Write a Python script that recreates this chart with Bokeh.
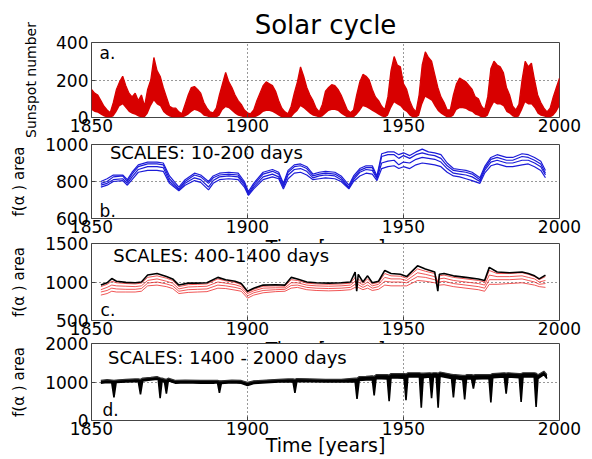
from bokeh.plotting import figure
from bokeh.layouts import column
from bokeh.models import Label, Range1d, Title
from bokeh.embed import file_html
from bokeh.resources import INLINE

# ---------------- data ----------------
years_a = list(range(1850, 2001))
ssn_high = [150, 130, 120, 90, 60, 40, 25,
            80, 150, 190, 220, 170, 130, 110, 130, 90, 120, 60,
            150, 200, 320, 250, 220, 160, 110, 60, 50, 50, 30, 20,
            70, 120, 160, 165, 150, 130, 80, 50, 30, 25,
            50, 120, 180, 240, 190, 160, 120, 90, 70, 40, 25, 20,
            40, 90, 130, 170, 190, 180, 170, 140, 90, 50, 30, 20,
            60, 130, 190, 270, 220, 160, 120, 90, 50, 30,
            70, 140, 160, 175, 170, 150, 120, 80, 40, 25,
            40, 120, 190, 230, 220, 200, 150, 110, 90, 60, 40,
            110, 250, 325, 280, 270, 180, 150, 90, 50, 30,
            120, 280, 350, 320, 300, 230, 160, 110, 80, 40, 40,
            120, 180, 210, 200, 190, 170, 150, 110, 100, 60, 40,
            110, 260, 300, 280, 270, 240, 160, 120, 60, 40, 70,
            200, 300, 270, 290, 200, 120, 80, 50, 30, 50, 110, 160, 210]
ssn_low = [40, 30, 25, 15, 5, 0, 0,
           5, 30, 60, 70, 50, 30, 20, 15, 5, 0, 0,
           20, 60, 90, 70, 60, 30, 15, 5, 0, 0, 0, 0,
           5, 15, 30, 40, 35, 25, 10, 5, 0, 0,
           0, 10, 40, 55, 50, 35, 20, 10, 5, 0, 0, 0,
           0, 5, 15, 30, 35, 35, 30, 20, 10, 0, 0, 0,
           0, 20, 35, 60, 50, 35, 20, 10, 5, 0,
           5, 20, 35, 40, 40, 35, 20, 10, 0, 0,
           0, 15, 35, 60, 55, 45, 35, 25, 15, 5, 0,
           10, 50, 80, 70, 60, 40, 30, 10, 0, 0,
           10, 70, 110, 100, 90, 60, 35, 20, 10, 0, 0,
           10, 40, 50, 50, 45, 35, 30, 15, 10, 0, 0,
           10, 50, 80, 70, 70, 60, 30, 20, 5, 0, 5,
           40, 80, 70, 70, 50, 20, 10, 5, 0, 0, 10, 30, 60]

years_b = [1853, 1855, 1857, 1860, 1861.5, 1863, 1865, 1868, 1871, 1873,
           1875, 1878, 1880, 1883, 1885, 1887.5, 1889, 1891, 1894, 1897,
           1899, 1900.3, 1902, 1905, 1908, 1910, 1911.5, 1913, 1915, 1917,
           1919, 1921, 1923, 1925, 1928, 1930, 1932.5, 1934, 1936, 1938,
           1940, 1941.5, 1943, 1945, 1947, 1948.5, 1950, 1952, 1954, 1956,
           1958, 1960, 1962, 1964, 1966, 1968, 1970, 1972, 1974.5, 1976,
           1978, 1980, 1983, 1985, 1988, 1990, 1992, 1994, 1995.5]
area_b1 = [800, 815, 835, 835, 810, 850, 890, 905, 905, 900,
           830, 770, 810, 845, 835, 800, 830, 845, 850, 845,
           800, 745, 790, 850, 865, 850, 790, 860, 890, 895,
           880, 840, 850, 855, 850, 830, 780, 830, 870, 885,
           885, 830, 950, 960, 960, 945, 955, 940, 960, 975,
           960, 955, 945, 900, 870, 865, 860, 850, 820, 880,
           930, 945, 930, 930, 950, 945, 930, 910, 860]
area_b2 = [790, 800, 825, 830, 800, 840, 880, 895, 895, 890,
           815, 760, 800, 835, 825, 790, 820, 835, 840, 835,
           790, 735, 780, 840, 855, 840, 780, 850, 880, 885,
           870, 830, 840, 845, 840, 820, 770, 820, 860, 875,
           875, 820, 935, 945, 945, 925, 940, 925, 945, 955,
           945, 940, 925, 885, 860, 855, 850, 840, 810, 870,
           920, 930, 915, 915, 935, 930, 915, 895, 845]
area_b3 = [780, 790, 810, 815, 790, 825, 865, 880, 880, 875,
           800, 755, 790, 820, 810, 770, 805, 825, 830, 825,
           780, 730, 770, 825, 840, 825, 770, 835, 865, 870,
           855, 820, 830, 835, 830, 810, 765, 810, 850, 865,
           860, 815, 900, 910, 915, 890, 905, 900, 920, 930,
           925, 920, 905, 870, 845, 840, 835, 825, 800, 860,
           905, 915, 900, 900, 915, 915, 900, 880, 835]
area_b4 = [770, 780, 800, 805, 780, 810, 850, 860, 860, 855,
           790, 750, 780, 805, 795, 755, 790, 810, 815, 810,
           770, 725, 760, 810, 825, 815, 760, 815, 845, 850,
           835, 810, 815, 820, 815, 800, 760, 800, 830, 845,
           840, 805, 870, 880, 885, 870, 880, 870, 890, 900,
           895, 890, 880, 850, 830, 825, 815, 805, 790, 845,
           885, 895, 880, 880, 890, 895, 880, 860, 820]

years_c = [1853, 1855, 1856.5, 1858, 1861, 1864, 1866, 1868, 1871, 1874,
           1876, 1878, 1881, 1884, 1887, 1890.5, 1893, 1896, 1898, 1900,
           1902, 1905, 1909, 1912, 1914, 1916, 1919, 1922, 1926, 1930,
           1933, 1934.5, 1935, 1935.5, 1937, 1938.5, 1940, 1942, 1944, 1946,
           1949, 1951, 1954.5, 1957, 1960, 1961, 1961.5, 1963, 1966, 1970,
           1974, 1976, 1977.5, 1980, 1984, 1988, 1990, 1992, 1993.5, 1995.5]
area_c_black = [960, 990, 1045, 1010, 995, 990, 1000, 1090, 1110, 1070,
                1040, 960, 985, 985, 990, 1060, 1030, 1010, 980, 880,
                920, 960, 965, 960, 1060, 1040, 1000, 990, 985, 990,
                1000, 1130, 880, 1100, 1000, 1080, 990, 1010, 1150, 1110,
                1100, 1070, 1210, 1170, 1130, 880, 1100, 1110, 1080, 1060,
                1040, 1020, 1190, 1130, 1120, 1130, 1110, 1080, 1040, 1090]
area_c1 = [940, 970, 1010, 990, 980, 975, 985, 1060, 1080, 1050,
           1020, 940, 965, 970, 975, 1040, 1015, 995, 965, 870,
           905, 945, 950, 945, 1030, 1020, 985, 975, 970, 975,
           985, 1060, 980, 1040, 985, 1040, 975, 995, 1110, 1080,
           1075, 1050, 1170, 1140, 1110, 1000, 1080, 1090, 1060, 1040,
           1020, 1000, 1150, 1110, 1110, 1120, 1100, 1070, 1030, 1070]
area_c2 = [900, 930, 960, 950, 945, 940, 950, 1020, 1040, 1010,
           985, 910, 935, 940, 945, 1000, 985, 965, 940, 850,
           885, 920, 925, 925, 990, 990, 960, 950, 945, 950,
           960, 1010, 970, 1000, 960, 1000, 950, 970, 1060, 1040,
           1040, 1020, 1120, 1100, 1070, 1000, 1040, 1050, 1020, 1000,
           980, 960, 1090, 1070, 1070, 1080, 1060, 1040, 1000, 1020]
area_c3 = [870, 890, 920, 910, 905, 905, 915, 985, 1000, 975,
           950, 880, 900, 905, 910, 960, 950, 930, 910, 820,
           860, 890, 900, 905, 955, 960, 930, 920, 915, 920,
           930, 970, 945, 965, 930, 960, 920, 940, 1010, 1000,
           1000, 990, 1070, 1060, 1030, 990, 1000, 1010, 980, 960,
           940, 920, 1030, 1030, 1030, 1040, 1020, 1000, 970, 980]
area_c4 = [830, 850, 880, 870, 870, 870, 880, 950, 960, 940,
           915, 850, 865, 870, 875, 920, 915, 895, 880, 790,
           830, 860, 875, 880, 920, 930, 900, 890, 885, 890,
           900, 930, 915, 930, 900, 920, 890, 905, 960, 950,
           950, 950, 1020, 1010, 990, 970, 960, 965, 940, 920,
           900, 880, 970, 970, 980, 990, 975, 960, 940, 930]

years_d = [1853, 1855, 1856.5, 1857.2, 1857.9,
           1861, 1864, 1865.0, 1865.7, 1866.4,
           1869, 1871, 1871.4, 1872, 1872.6,
           1873.4, 1874, 1874.6, 1877, 1880,
           1885, 1889, 1890.4, 1891, 1891.6,
           1895, 1898, 1900, 1902, 1906,
           1910, 1913, 1914.6, 1915.2, 1915.8,
           1920, 1925, 1930, 1934.5, 1935.1,
           1935.8, 1938, 1940.0, 1940.6, 1941.2,
           1944.8, 1945.4, 1946.0, 1950.2, 1950.8,
           1951.4, 1955.1, 1955.7, 1956.3, 1958.4,
           1959, 1959.6, 1960.5, 1961.1, 1961.7,
           1965.4, 1966, 1966.6, 1969.0, 1969.6,
           1970.2, 1971.8, 1972.4, 1973.0, 1977.4,
           1978, 1978.6, 1982.3, 1982.9, 1983.5,
           1987.1, 1987.7, 1988.3, 1991.9, 1992.5,
           1993.1, 1995, 1996]
area_d_lower = [970, 990, 980, 600, 990,
                1000, 1010, 1010, 680, 1030,
                1050, 1070, 1060, 580, 1020,
                1000, 700, 1030, 970, 980,
                970, 970, 980, 720, 960,
                980, 970, 910, 960, 980,
                1000, 1000, 1000, 720, 1010,
                1010, 1000, 1000, 1010, 560,
                1040, 1050, 1060, 650, 1090,
                1080, 500, 1110, 1100, 530,
                1130, 1130, 330, 1110, 1130,
                580, 1130, 1130, 330, 1150,
                1090, 600, 1090, 1060, 550,
                1080, 1080, 830, 1080, 1090,
                470, 1110, 1130, 700, 1130,
                1110, 480, 1130, 1130, 350,
                1090, 1190, 1090]
area_d_upper = [1040, 1060, 1050, 1040, 1050,
                1070, 1080, 1080, 1070, 1100,
                1120, 1140, 1130, 1110, 1100,
                1080, 1070, 1100, 1040, 1050,
                1040, 1040, 1040, 1030, 1030,
                1050, 1040, 990, 1030, 1050,
                1070, 1080, 1080, 1070, 1090,
                1080, 1070, 1070, 1100, 1100,
                1140, 1150, 1160, 1150, 1190,
                1190, 1180, 1220, 1220, 1210,
                1240, 1240, 1230, 1230, 1240,
                1230, 1240, 1240, 1230, 1260,
                1200, 1190, 1190, 1170, 1170,
                1190, 1190, 1180, 1190, 1190,
                1200, 1220, 1240, 1230, 1240,
                1220, 1220, 1240, 1240, 1230,
                1190, 1280, 1190]

x_ticks = [1850, 1900, 1950, 2000]
ticks_a = [0, 200, 400]
ticks_b = [600, 800, 1000]
ticks_c = [500, 1000, 1500]
ticks_d = [0, 1000, 2000]

for a, b in [(years_a, ssn_high), (years_a, ssn_low), (years_b, area_b1), (years_b, area_b2),
             (years_b, area_b3), (years_b, area_b4), (years_c, area_c_black), (years_c, area_c1),
             (years_c, area_c2), (years_c, area_c3), (years_c, area_c4), (years_d, area_d_upper),
             (years_d, area_d_lower)]:
    assert len(a) == len(b), (len(a), len(b))

# ---------------- styling helpers ----------------
FONT = "DejaVu Sans"
RED = "#d80000"
BLUE = "#1c1cd8"
LRED = "#ec2a2a"


def make_fig(height, top, bottom, yr, yticks, ylabel, mtop, ylabel_size="15px",
             xlabel=None, xlabel_standoff=-4):
    p = figure(width=592, height=height, title=None,
               x_range=Range1d(1850, 2000), y_range=Range1d(*yr),
               output_backend="svg", toolbar_location=None,
               min_border_left=91, min_border_right=33,
               min_border_top=top, min_border_bottom=bottom)
    p.margin = (mtop, 0, 0, 0)
    p.border_fill_alpha = 0
    p.background_fill_color = "white"
    p.outline_line_color = "#444444"
    p.outline_line_width = 1
    p.xaxis.ticker = x_ticks
    p.yaxis.ticker = yticks
    for ax in (p.xaxis, p.yaxis):
        ax.axis_line_color = None
        ax.major_tick_in = 4
        ax.major_tick_out = 0
        ax.major_tick_line_color = "#444444"
        ax.minor_tick_line_color = None
        ax.major_label_text_font = FONT
        ax.major_label_text_font_size = "17px"
        ax.major_label_text_color = "black"
    p.xaxis.major_label_standoff = 1
    p.yaxis.major_label_standoff = 3
    p.yaxis.axis_label = ylabel
    p.yaxis.axis_label_text_font = FONT
    p.yaxis.axis_label_text_font_size = ylabel_size
    p.yaxis.axis_label_text_font_style = "normal"
    p.yaxis.axis_label_text_color = "black"
    p.yaxis.axis_label_standoff = 14
    if xlabel:
        p.xaxis.axis_label = xlabel
        p.xaxis.axis_label_text_font = FONT
        p.xaxis.axis_label_text_font_size = "19px"
        p.xaxis.axis_label_text_font_style = "normal"
        p.xaxis.axis_label_text_color = "black"
        p.xaxis.axis_label_standoff = xlabel_standoff
    for g in (p.xgrid, p.ygrid):
        g.grid_line_color = "#333333"
        g.grid_line_dash = "1 3"
        g.grid_line_width = 1
    return p


def label(p, x, y, text, size, align="left"):
    p.add_layout(Label(x=x, y=y, text=text, text_font=FONT, text_font_size=size,
                       text_color="black", text_align=align, text_baseline="alphabetic"))


# ---------------- panel a ----------------
pa = make_fig(139, 42, 22, (0, 400), ticks_a, "Sunspot number", 0, ylabel_size="14px")
pa.varea(x=years_a, y1=ssn_low, y2=ssn_high, fill_color=RED)
pa.line(years_a, ssn_high, line_color=RED, line_width=1.3)
pa.add_layout(Title(text="Solar cycle", align="center", text_font=FONT, text_font_size="26px",
                    text_font_style="normal", text_color="black", standoff=5), "above")
label(pa, 1852.6, 342, "a.", "17px")

# ---------------- panel b ----------------
pb = make_fig(128, 12, 42, (600, 1000), ticks_b, "f(α ) area", -7,
              xlabel="Time [years]", xlabel_standoff=0)
for s in (area_b1, area_b2, area_b3, area_b4):
    pb.line(years_b, s, line_color=BLUE, line_width=1.2)
label(pb, 1855.9, 958, "SCALES: 10-200 days", "18px")
label(pb, 1852.6, 643, "b.", "17px")

# ---------------- panel c ----------------
pc = make_fig(131, 12, 42, (500, 1500), ticks_c, "f(α ) area", -29,
              xlabel="Time [years]", xlabel_standoff=0)
for s in (area_c4, area_c3, area_c2, area_c1):
    pc.line(years_c, s, line_color=LRED, line_width=0.8)
pc.line(years_c, area_c_black, line_color="black", line_width=1.6)
label(pc, 1857, 1344, "SCALES: 400-1400 days", "18px")
label(pc, 1852.9, 630, "c.", "17px")

# ---------------- panel d ----------------
pd_ = make_fig(126, 10, 39, (0, 2000), ticks_d, "f(α ) area", -29,
               xlabel="Time [years]", xlabel_standoff=-4)
pd_.varea(x=years_d, y1=area_d_lower, y2=area_d_upper, fill_color="black")
pd_.line(years_d, area_d_lower, line_color="black", line_width=1.6)
pd_.line(years_d, area_d_upper, line_color="#333333", line_width=1.2)
label(pd_, 1855.3, 1644, "SCALES: 1400 - 2000 days", "18px")
label(pd_, 1853.5, 260, "d.", "17px")

layout = column(pa, pb, pc, pd_, spacing=0)
open("out.html", "w").write(file_html(layout, INLINE))
